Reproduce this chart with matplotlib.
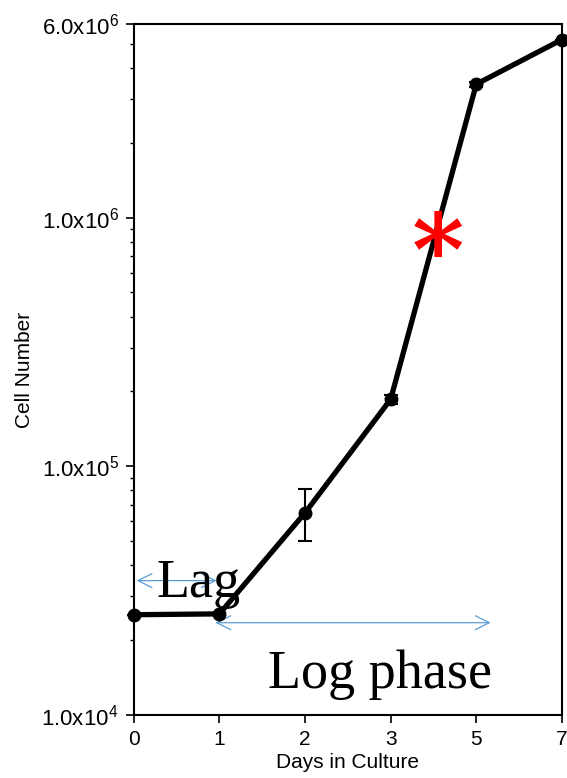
import matplotlib.pyplot as plt
from matplotlib.ticker import FixedLocator, LogLocator, NullFormatter

days = ['0', '1', '2', '3', '5', '7']
cells = [2.53e4, 2.55e4, 6.5e4, 1.86e5, 3.44e6, 5.2e6]
err_low = [0, 0, 1.5e4, 0.08e5, 0.08e6, 0]
err_high = [0, 0, 1.6e4, 0.08e5, 0.08e6, 0]
yticks = [1e4, 1e5, 1e6, 6e6]
ylabels = [r'1.0x10$^{4}$', r'1.0x10$^{5}$', r'1.0x10$^{6}$', r'6.0x10$^{6}$']

plt.rcParams['font.family'] = ['Liberation Sans', 'DejaVu Sans']
plt.rcParams['mathtext.fontset'] = 'custom'
plt.rcParams['mathtext.rm'] = 'Liberation Sans'

fig = plt.figure(figsize=(5.67, 7.78), dpi=100)
ax = fig.add_axes([0.236, 0.081, 0.755, 0.888])

pos = list(range(len(days)))
ax.errorbar(pos, cells, yerr=[err_low, err_high], color='black', lw=3.8,
            marker='o', markersize=9, capsize=5, elinewidth=1.5, capthick=1.5,
            clip_on=False, zorder=3)

ax.set_yscale('log')
ax.set_ylim(1e4, 6e6)
ax.set_xlim(0, 5)
ax.yaxis.set_major_locator(FixedLocator(yticks))
ax.set_yticklabels(ylabels)
ax.yaxis.set_minor_locator(LogLocator(base=10, subs=range(2, 10)))
ax.yaxis.set_minor_formatter(NullFormatter())
ax.set_xticks(pos)
ax.set_xticklabels(days)
ax.tick_params(axis='both', which='major', direction='out', length=6, width=1.2)
ax.tick_params(axis='y', which='major', labelsize=16, pad=5)
ax.tick_params(axis='x', which='major', labelsize=15, pad=5)
ax.tick_params(axis='y', which='minor', direction='out', length=3, width=1)
for s in ax.spines.values():
    s.set_linewidth(1.5)

ax.set_xlabel('Days in Culture', fontsize=15, labelpad=3)
ax.set_ylabel('Cell Number', fontsize=15, labelpad=5)

# annotations
blue = '#5b9bd5'
ax.annotate('', xy=(0.0, 3.47e4), xytext=(1.0, 3.47e4),
            arrowprops=dict(arrowstyle='<->', color=blue, lw=0.9, mutation_scale=25))
ax.annotate('', xy=(0.92, 2.35e4), xytext=(4.2, 2.35e4),
            arrowprops=dict(arrowstyle='<->', color=blue, lw=0.9, mutation_scale=25))
ax.text(0.26, 2.99e4, 'Lag', fontsize=39, family='Liberation Serif', va='baseline', ha='left')
ax.text(1.57, 1.28e4, 'Log phase', fontsize=39, family='Liberation Serif', va='baseline', ha='left')
ax.text(3.55, 6.9e5, '*', fontsize=72, color='red', family='DejaVu Serif',
        ha='center', va='center', fontweight='bold', zorder=4)

fig.savefig('out.png', dpi=100)
